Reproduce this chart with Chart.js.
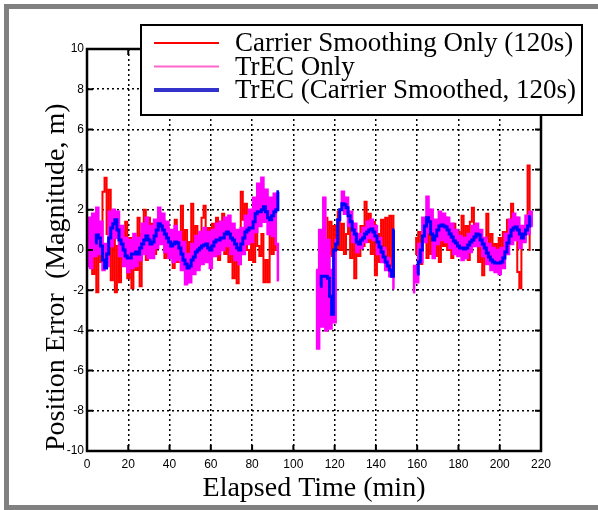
<!DOCTYPE html>
<html>
<head>
<meta charset="utf-8">
<script src="https://cdn.jsdelivr.net/npm/chart.js@4/dist/chart.umd.min.js"></script>
<style>
  html, body { margin: 0; padding: 0; background: #fff; overflow: hidden; }
  canvas { display: block; }
</style>
</head>
<body>
<canvas id="grafico" width="598" height="510"></canvas>
<script>
// tick labels
const xTicks = [0, 20, 40, 60, 80, 100, 120, 140, 160, 180, 200, 220];
const yTicks = [-10, -8, -6, -4, -2, 0, 2, 4, 6, 8, 10];

// each series comes in three pieces (gaps in between), first minute of each piece
const redStart = [2, 116, 159];
const pinkStart = [0, 111, 158];
const blueStart = [4, 113, 160];

// Carrier Smoothing Only (120s)
const red1 = [0.3, -1.2, 1.0, -2.1, 0.5, -0.6, 2.9, 3.6, 0.8, 3.0, -1.5, 1.8, -2.1, 0.2, -1.6, 0.9, -0.5, 1.4, -1.4, 0.6,
  -1.9, 0.4, -1.0, 1.6, -1.8, 0.8, 2.0, -0.5, 1.6, -0.4, 1.3, -0.2, 0.8, 1.9, 0.3, 1.5, -0.4, 1.1, -0.3, 0.9,
  -0.9, 1.5, -0.6, 0.9, 2.2, -0.4, 1.0, -1.2, 0.4, 2.3, -0.6, 1.2, -0.8, 0.6, 1.6, 2.2, -0.3, 1.1, -0.5, 1.3,
  0.2, 1.6, -0.5, 0.7, 1.8, -0.2, 1.2, -0.6, 0.5, -1.4, 0.2, -1.65, 0.8, 2.9, 1.5, 2.3, 0.0, -0.5, 0.9, -0.6,
  1.2, 0.2, -0.3, 0.8, -1.6, -0.5, -1.6, 1.2, -0.2, 0.6, 0.0];
const red2 = [1.6, -0.2, 1.4, -0.3, 1.2, 0.1, 1.9, 0.0, 1.3, -0.2, 0.8, 1.5, -0.4, 0.9, -1.4, 0.6, -0.3, 1.2, 0.2, 2.4,
  0.4, 1.8, -0.2, 1.4, -1.25, 0.8, -0.6, 1.5, 0.1, 1.6, -0.4, 1.7, -0.8, 1.7];
const red3 = [0.6, -0.2, 0.9, -0.7, 0.5, 1.1, -0.4, 1.5, -0.2, 0.7, -0.3, 1.3, -0.6, 0.9, 0.2, 1.6, 0.0, 0.8, -0.4, 1.3,
  -0.2, 0.9, 0.1, 1.7, 0.0, 1.2, -0.5, 1.4, 2.1, 0.3, 1.0, -0.6, 0.4, -1.25, 0.6, 1.8, -0.5, 0.8, -0.9, 0.3,
  -1.0, 0.6, -0.7, 0.9, 0.2, 1.5, 0.5, 2.3, 0.6, 1.6, -1.1, -1.9, 1.2, 0.5, 1.4, 4.2, 0.0];

// TrEC Only
const pink1 = [-0.8, 1.6, -0.9, 1.8, -0.3, 2.1, -0.2, 1.4, -1.0, 0.3, -0.8, 1.9, 0.2, 2.0, 0.6, 1.9, -0.3, 1.2, -0.8, 0.6,
  -1.1, 0.5, -0.9, 0.8, -0.8, 0.6, -0.5, 1.3, -0.2, 1.6, -0.4, 1.2, -0.4, 1.5, 0.1, 2.1, 0.3, 1.8, -0.1, 1.4,
  -0.4, 1.0, -0.6, 1.2, -0.5, 0.9, -1.0, 0.4, -1.7, -0.2, -1.6, 0.3, -1.2, 0.7, -1.0, 0.9, -0.7, 1.1, -0.6, 0.9,
  -0.9, 1.0, -0.3, 1.3, -0.2, 1.4, 0.0, 1.6, 0.2, 1.7, -0.2, 1.3, -0.5, 1.0, -0.7, 1.1, -0.2, 1.7, 0.3, 2.0,
  0.4, 2.6, 0.9, 3.3, 1.2, 3.6, 1.4, 3.0, 0.8, 2.6, 0.7, 2.8, 0.3, -1.5];
const pink2 = [-1.0, -4.9, 1.0, -3.8, 2.6, -4.0, 0.5, -3.9, -1.0, -3.6, 0.5, 1.5, 2.0, 2.9, 1.8, 2.6, 1.2, 1.9, 0.4, 1.3,
  -0.1, 0.8, 0.1, 1.1, 0.4, 1.4, 0.6, 1.5, 0.5, 1.2, -0.2, 0.6, -0.6, 0.1, -1.0, -0.4, -1.3, -0.9, -1.9];
const pink3 = [-2.1, -0.8, -1.6, 0.3, -0.6, 1.6, 0.4, 2.65, 0.9, 2.0, -0.4, 1.5, 0.3, 1.9, 0.5, 1.8, 0.4, 1.6, 0.1, 1.3,
  -0.2, 1.0, -0.3, 0.7, -0.5, 0.6, -0.4, 0.8, -0.1, 1.2, 0.2, 1.3, 0.2, 1.0, -0.3, 0.6, -0.7, 0.3, -1.0, 0.1,
  -1.1, 0.0, -1.2, 0.1, -0.9, 0.8, -0.2, 1.5, 0.3, 1.8, 0.5, 1.6, 0.1, 1.2, 0.4, 1.7, 0.8, 1.9, 1.2];

// TrEC (Carrier Smoothed, 120s)
const blue1 = [0.35, 0.75, 0.6, 0.2, -0.5, -0.9, -0.2, 0.6, 1.1, 1.3, 1.5, 1.0, 0.5, 0.3, 0.0, -0.3, -0.4, -0.4, -0.2, -0.2,
  -0.1, -0.2, 0.1, 0.3, 0.5, 0.7, 0.5, 0.3, 0.4, 0.7, 1.0, 1.3, 1.2, 1.0, 0.8, 0.6, 0.4, 0.2, 0.3, 0.4,
  0.35, 0.1, -0.2, -0.5, -0.7, -0.9, -0.8, -0.5, -0.35, -0.1, 0.0, 0.1, 0.2, 0.25, 0.3, 0.1, 0.0, 0.2, 0.4, 0.5,
  0.5, 0.6, 0.6, 0.8, 0.9, 0.8, 0.6, 0.5, 0.3, 0.1, 0.0, 0.3, 0.6, 0.9, 1.0, 1.1, 1.1, 1.4, 1.8, 1.9,
  1.9, 2.0, 2.15, 1.9, 1.6, 1.5, 1.7, 1.9, 2.0, 2.9];
const blue2 = [-1.8, -1.3, -1.3, -1.3, -1.4, -2.3, -3.2, 0.0, 0.3, 1.5, 2.0, 2.3, 2.25, 2.1, 1.7, 1.4, 1.0, 0.8, 0.4, 0.3,
  0.5, 0.6, 0.8, 0.9, 1.0, 1.05, 0.9, 0.7, 0.4, 0.15, -0.1, -0.35, -0.6, -0.8, -1.0, -1.3, 1.0];
const blue3 = [-1.2, -0.6, 0.0, 0.7, 1.2, 1.6, 1.4, 0.8, 0.5, 0.7, 1.0, 1.2, 1.25, 1.2, 1.15, 1.0, 0.8, 0.65, 0.45, 0.35,
  0.2, 0.1, 0.1, 0.05, 0.1, 0.25, 0.4, 0.5, 0.65, 0.8, 0.75, 0.5, 0.3, 0.1, -0.15, -0.35, -0.5, -0.6, -0.65, -0.65,
  -0.65, -0.6, -0.4, -0.1, 0.35, 0.7, 1.0, 1.1, 1.15, 1.0, 0.8, 0.6, 0.8, 1.0, 1.2, 1.65];

function montaSerie(inicios, partes) {
    const pontos = [];
    partes.forEach((valores, p) => {
        valores.forEach((v, i) => pontos.push({ x: inicios[p] + i, y: v }));
        pontos.push({ x: inicios[p] + valores.length, y: null });
    });
    return pontos;
}

const moldura = {
    id: 'moldura',
    beforeDraw(chart) {
        const ctx = chart.ctx;
        ctx.save();
        ctx.fillStyle = '#fff';
        ctx.fillRect(0, 0, chart.width, chart.height);
        ctx.fillStyle = '#808080';
        ctx.fillRect(4, 4, chart.width - 4, 5);
        ctx.fillRect(4, 4, 5, chart.height - 4);
        ctx.fillRect(4, 505, chart.width - 4, 5);
        ctx.restore();
    },
    afterDraw(chart) {
        const ctx = chart.ctx;
        const a = chart.chartArea;
        const x = chart.scales.x;
        const y = chart.scales.y;
        ctx.save();
        // ticks pointing inside, all four sides
        ctx.strokeStyle = '#000';
        ctx.lineWidth = 2;
        ctx.beginPath();
        xTicks.forEach((t) => {
            const px = x.getPixelForValue(t);
            ctx.moveTo(px, a.bottom); ctx.lineTo(px, a.bottom - 6);
            ctx.moveTo(px, a.top); ctx.lineTo(px, a.top + 6);
        });
        yTicks.forEach((t) => {
            const py = y.getPixelForValue(t);
            ctx.moveTo(a.left, py); ctx.lineTo(a.left + 6, py);
            ctx.moveTo(a.right, py); ctx.lineTo(a.right - 6, py);
        });
        ctx.stroke();
        ctx.lineWidth = 2.5;
        ctx.strokeRect(a.left, a.top, a.right - a.left, a.bottom - a.top);

        // legend box
        const box = { left: 141, top: 25, right: 582, bottom: 115 };
        ctx.fillStyle = '#fff';
        ctx.fillRect(box.left, box.top, box.right - box.left, box.bottom - box.top);
        ctx.lineWidth = 2;
        ctx.strokeStyle = '#000';
        ctx.strokeRect(box.left, box.top, box.right - box.left, box.bottom - box.top);
        const linhas = [43, 66.5, 90];
        ctx.font = '27px "Liberation Serif", "Times New Roman", serif';
        ctx.textBaseline = 'middle';
        chart.data.datasets.forEach((ds, i) => {
            ctx.strokeStyle = ds.legendColor;
            ctx.lineWidth = ds.legendWidth;
            ctx.beginPath();
            ctx.moveTo(154, linhas[i]);
            ctx.lineTo(219, linhas[i]);
            ctx.stroke();
            ctx.fillStyle = '#000';
            ctx.fillText(ds.label, 235, linhas[i] + 1);
        });
        ctx.restore();
    }
};

const grade = { color: '#000', lineWidth: 1.5, drawTicks: false };
const bordaPontilhada = { display: false, dash: [2, 3] };

const grafico = new Chart(document.getElementById('grafico'), {
    type: 'line',
    data: {
        datasets: [{
            label: 'Carrier Smoothing Only (120s)',
            data: montaSerie(redStart, [red1, red2, red3]),
            borderColor: '#ff0000',
            legendColor: '#ff0000',
            legendWidth: 2,
            borderWidth: 2,
            stepped: 'middle',
            order: 2
        }, {
            label: 'TrEC Only',
            data: montaSerie(pinkStart, [pink1, pink2, pink3]),
            borderColor: '#ff00ff',
            legendColor: '#ff66cc',
            legendWidth: 2,
            borderWidth: 2.5,
            stepped: 'middle',
            order: 1
        }, {
            label: 'TrEC (Carrier Smoothed, 120s)',
            data: montaSerie(blueStart, [blue1, blue2, blue3]),
            borderColor: '#0000ff',
            legendColor: '#3333cc',
            legendWidth: 4,
            borderWidth: 3,
            stepped: 'middle',
            order: 0
        }]
    },
    options: {
        responsive: false,
        animation: false,
        events: [],
        elements: { point: { radius: 0 }, line: { tension: 0 } },
        layout: { padding: { left: 0, top: 49, right: 57, bottom: 0 } },
        plugins: { legend: { display: false }, tooltip: { enabled: false } },
        scales: {
            x: {
                type: 'linear',
                min: 0,
                max: 220,
                afterBuildTicks: (s) => { s.ticks = xTicks.map((v) => ({ value: v })); },
                afterFit: (s) => { s.height = 59; },
                grid: grade,
                border: bordaPontilhada,
                ticks: { padding: 6, color: '#000', font: { family: '"Liberation Sans", Arial', size: 12 } },
                title: {
                    display: true,
                    text: 'Elapsed Time (min)',
                    color: '#000',
                    padding: { top: 0, bottom: 5 },
                    font: { family: '"Liberation Serif", "Times New Roman", serif', size: 28 }
                }
            },
            y: {
                min: -10,
                max: 10,
                afterBuildTicks: (s) => { s.ticks = yTicks.map((v) => ({ value: v })); },
                afterFit: (s) => { s.width = 87; },
                grid: grade,
                border: bordaPontilhada,
                ticks: { padding: 3, color: '#000', font: { family: '"Liberation Sans", Arial', size: 12 } },
                title: {
                    display: true,
                    text: 'Position Error  (Magnitude, m)',
                    align: 'start',
                    color: '#000',
                    padding: { top: 40, bottom: 0 },
                    font: { family: '"Liberation Serif", "Times New Roman", serif', size: 28 }
                }
            }
        }
    },
    plugins: [moldura]
});
</script>
</body>
</html>
